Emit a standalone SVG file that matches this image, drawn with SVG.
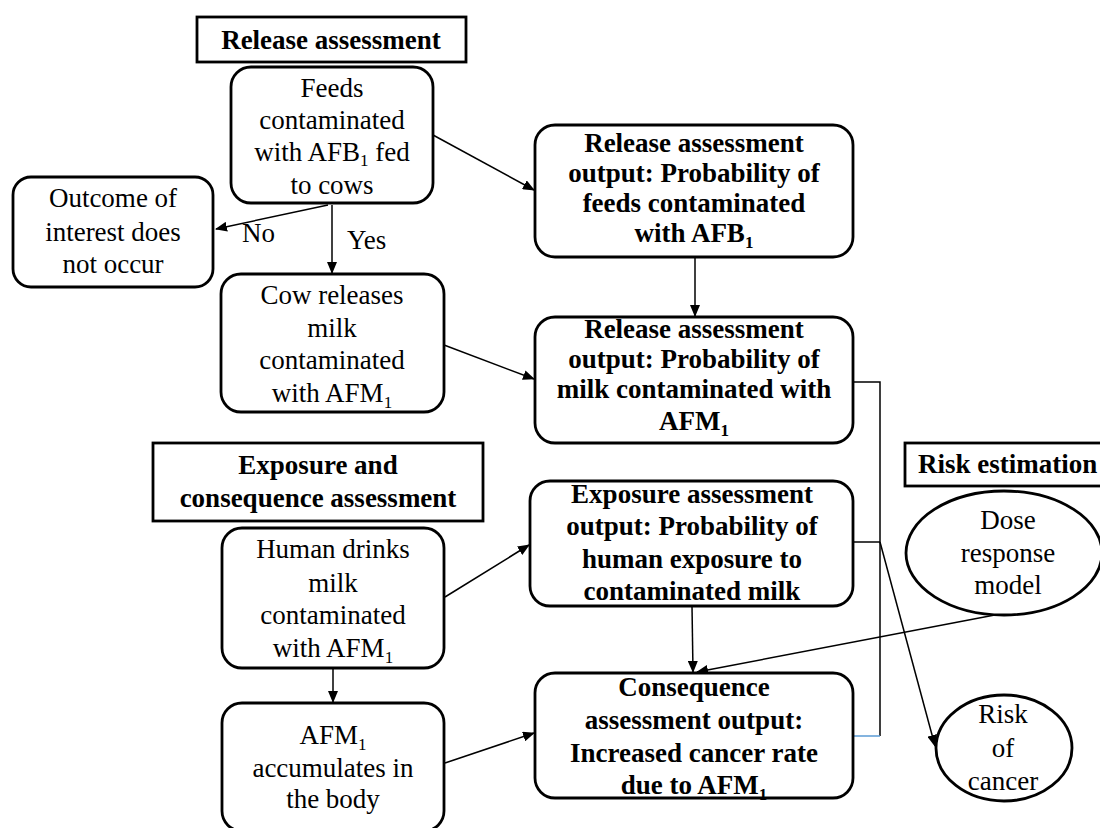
<svg xmlns="http://www.w3.org/2000/svg" width="1100" height="828" viewBox="0 0 1100 828">
<style>
.box{fill:#fff;stroke:#000;stroke-width:2.8}
.hdr{fill:#fff;stroke:#000;stroke-width:2.8}
.t{font-family:"Liberation Serif","Times New Roman",serif;font-size:27px;fill:#000;text-anchor:middle}
.b{font-family:"Liberation Serif","Times New Roman",serif;font-size:27px;font-weight:bold;fill:#000;text-anchor:middle}
.c{fill:none;stroke:#000;stroke-width:1.5}
.sub{font-size:17px}
</style>
<defs>
<marker id="ah" markerWidth="12" markerHeight="10" refX="11" refY="5" orient="auto" markerUnits="userSpaceOnUse">
<path d="M0,0 L12,5 L0,10 z" fill="#000"/>
</marker>
</defs>
<rect width="1100" height="828" fill="#fff"/>

<g id="connectors">
<line class="c" x1="433" y1="135" x2="534" y2="190" marker-end="url(#ah)"/>
<line class="c" x1="328" y1="205" x2="216" y2="229" marker-end="url(#ah)"/>
<line class="c" x1="332" y1="205" x2="332" y2="273" marker-end="url(#ah)"/>
<line class="c" x1="695" y1="257" x2="695" y2="316" marker-end="url(#ah)"/>
<line class="c" x1="444" y1="345" x2="534" y2="379" marker-end="url(#ah)"/>
<line class="c" x1="445" y1="597" x2="529" y2="545" marker-end="url(#ah)"/>
<line class="c" x1="333" y1="668" x2="333" y2="702" marker-end="url(#ah)"/>
<line class="c" x1="445" y1="763" x2="534" y2="733" marker-end="url(#ah)"/>
<line class="c" x1="692" y1="606" x2="693" y2="672" marker-end="url(#ah)"/>
<line class="c" x1="1000" y1="614" x2="697" y2="672" marker-end="url(#ah)"/>
<polyline class="c" points="853,382 880,382 880,736" stroke="#222"/>
<line x1="880" y1="736" x2="853" y2="736" stroke="#5B9BD5" stroke-width="1.5"/>
<line class="c" x1="853" y1="542" x2="880" y2="542"/>
<line class="c" x1="880" y1="542" x2="935" y2="746" marker-end="url(#ah)"/>
<text class="t" x="242" y="242" style="text-anchor:start">No</text>
<text class="t" x="347" y="249" style="text-anchor:start">Yes</text>
</g>

<g id="hdr-release">
<rect class="hdr" x="197" y="17" width="269" height="45"/>
<text class="b" x="331" y="49">Release assessment</text>
</g>

<g id="feeds">
<rect class="box" x="231" y="67" width="202" height="136" rx="20"/>
<text class="t" x="332" y="97">Feeds</text>
<text class="t" x="332" y="129">contaminated</text>
<text class="t" x="332" y="161">with AFB<tspan class="sub" dy="5">1</tspan><tspan dy="-5"> fed</tspan></text>
<text class="t" x="332" y="194">to cows</text>
</g>

<g id="outcome">
<rect class="box" x="13" y="177" width="200" height="110" rx="18"/>
<text class="t" x="113" y="207">Outcome of</text>
<text class="t" x="113" y="241">interest does</text>
<text class="t" x="113" y="273">not occur</text>
</g>

<g id="cow">
<rect class="box" x="221" y="274" width="223" height="138" rx="20"/>
<text class="t" x="332" y="304">Cow releases</text>
<text class="t" x="332" y="337">milk</text>
<text class="t" x="332" y="369">contaminated</text>
<text class="t" x="332" y="402">with AFM<tspan class="sub" dy="6">1</tspan></text>
</g>

<g id="release-out1">
<rect class="box" x="535" y="125" width="318" height="132" rx="20"/>
<text class="b" x="694" y="152">Release assessment</text>
<text class="b" x="694" y="182">output: Probability of</text>
<text class="b" x="694" y="212">feeds contaminated</text>
<text class="b" x="694" y="242">with AFB<tspan class="sub" dy="6">1</tspan></text>
</g>

<g id="release-out2">
<rect class="box" x="535" y="317" width="318" height="126" rx="20"/>
<text class="b" x="694" y="338">Release assessment</text>
<text class="b" x="694" y="368">output: Probability of</text>
<text class="b" x="694" y="398">milk contaminated with</text>
<text class="b" x="694" y="430">AFM<tspan class="sub" dy="6">1</tspan></text>
</g>

<g id="hdr-exposure">
<rect class="hdr" x="153" y="443" width="330" height="78"/>
<text class="b" x="318" y="474">Exposure and</text>
<text class="b" x="318" y="507">consequence assessment</text>
</g>

<g id="hdr-risk">
<rect class="hdr" x="905" y="443" width="200" height="43"/>
<text class="b" x="918" y="473" style="text-anchor:start">Risk estimation</text>
</g>

<g id="human">
<rect class="box" x="222" y="528" width="222" height="140" rx="20"/>
<text class="t" x="333" y="558">Human drinks</text>
<text class="t" x="333" y="592">milk</text>
<text class="t" x="333" y="624">contaminated</text>
<text class="t" x="333" y="657">with AFM<tspan class="sub" dy="6">1</tspan></text>
</g>

<g id="accumulates">
<rect class="box" x="222" y="703" width="222" height="128" rx="20"/>
<text class="t" x="333" y="744">AFM<tspan class="sub" dy="6">1</tspan></text>
<text class="t" x="333" y="777">accumulates in</text>
<text class="t" x="333" y="808">the body</text>
</g>

<g id="exposure-out">
<rect class="box" x="530" y="481" width="323" height="125" rx="20"/>
<text class="b" x="692" y="503">Exposure assessment</text>
<text class="b" x="692" y="535">output: Probability of</text>
<text class="b" x="692" y="568">human exposure to</text>
<text class="b" x="692" y="600">contaminated milk</text>
</g>

<g id="consequence">
<rect class="box" x="535" y="673" width="318" height="125" rx="20"/>
<text class="b" x="694" y="696">Consequence</text>
<text class="b" x="694" y="729">assessment output:</text>
<text class="b" x="694" y="762">Increased cancer rate</text>
<text class="b" x="694" y="794">due to AFM<tspan class="sub" dy="6">1</tspan></text>
</g>

<g id="dose">
<ellipse class="box" cx="1004" cy="553" rx="98" ry="62"/>
<text class="t" x="1008" y="529">Dose</text>
<text class="t" x="1008" y="562">response</text>
<text class="t" x="1008" y="594">model</text>
</g>

<g id="risk">
<ellipse class="box" cx="1004" cy="748" rx="68" ry="53"/>
<text class="t" x="1003" y="723">Risk</text>
<text class="t" x="1003" y="757">of</text>
<text class="t" x="1003" y="790">cancer</text>
</g>
</svg>
